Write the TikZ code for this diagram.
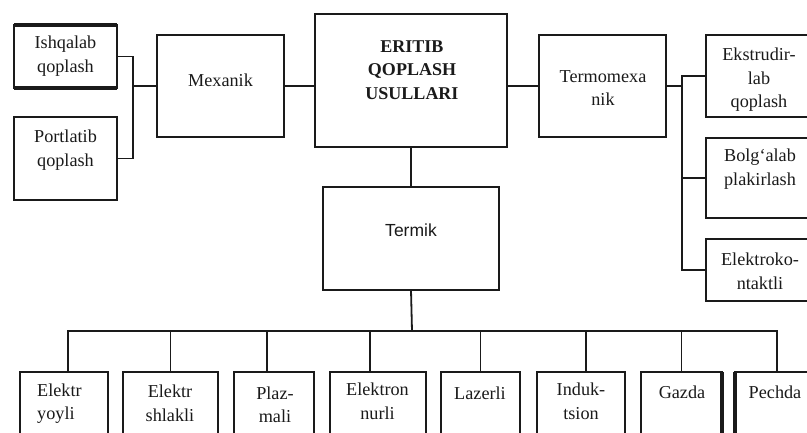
\documentclass[tikz,border=0pt]{standalone}
\usepackage{fontspec}
\setmainfont{Liberation Serif}
\newfontfamily\sansf{Liberation Sans}
\definecolor{ink}{HTML}{1A1A1A}
\begin{document}
\begin{tikzpicture}[x=1pt,y=-1pt,
  box/.style={draw=ink, line width=2.4pt, inner sep=0pt, outer sep=0pt},
  conn/.style={draw=ink, line width=1.8pt},
  txt/.style={font=\fontsize{18.2}{23.5}\selectfont, text=ink, align=center, inner sep=0pt}]
\useasboundingbox (0,0) rectangle (807,432);
\clip (0,0) rectangle (807,432);
% boxes
\node[box, minimum width=103pt, minimum height=63pt] (ishq) at (65.5,56.5) {};
\node[box, minimum width=103pt, minimum height=83pt] (port) at (65.5,158.5) {};
\node[box, minimum width=127pt, minimum height=102pt] (mex) at (220.5,86) {};
\node[box, minimum width=192pt, minimum height=133pt] (erit) at (411,80.5) {};
\node[box, minimum width=127pt, minimum height=102pt] (tm) at (602.5,86) {};
\node[box, minimum width=116pt, minimum height=82pt] (ext) at (764,76) {};
\node[box, minimum width=116pt, minimum height=80pt] (bol) at (764,178) {};
\node[box, minimum width=116pt, minimum height=62pt] (elk) at (764,270) {};
\node[box, minimum width=176pt, minimum height=103pt] (term) at (411,238.5) {};
\foreach \n/\cx/\w in {b1/64/88, b2/170.5/95, b3/274/80, b4/378/96, b5/480.5/79, b6/581/88, b7/681.5/81, b8/777/84}
  \node[box, minimum width=\w pt, minimum height=80pt] (\n) at (\cx,412) {};
% extra thick edges
\draw[ink, line width=4pt] (ishq.north west) -- (ishq.north east);
\draw[ink, line width=4pt] (ishq.south west) -- (ishq.south east);
\draw[ink, line width=4pt] (b7.north east) -- (b7.south east);
\draw[ink, line width=4pt] (b8.north west) -- (b8.south west);
% texts
\node[txt] (ishqT) at (65.5,56) {Ishqalab\\qoplash};
\node[txt] (portT) at (65.5,150) {Portlatib\\qoplash};
\node[txt] (mexT) at (220.5,80) {Mexanik};
\node[txt, font=\fontsize{18}{23.5}\selectfont\bfseries] (eritT) at (412,70) {ERITIB\\QOPLASH\\USULLARI};
\node[txt] (tmT) at (603,88) {Termomexa\\nik};
\node[txt] (extT) at (759,80) {Ekstrudir-\\lab\\qoplash};
\node[txt] (bolT) at (760,169) {Bolg`alab\\plakirlash};
\node[txt] (elkT) at (760,271.5) {Elektroko-\\ntaktli};
\node[txt, font=\fontsize{17.5}{22}\selectfont\sansf] (termT) at (411,230) {Termik};
\node[txt, anchor=west, align=left] (b1T) at (37,403.5) {Elektr\\yoyli};
\node[txt] (b2T) at (170,403.5) {Elektr\\shlakli};
\node[txt] (b3T) at (275,405) {Plaz-\\mali};
\node[txt] (b4T) at (377.5,401.5) {Elektron\\nurli};
\node[txt] (b5T) at (480,393) {Lazerli};
\node[txt] (b6T) at (581,401.5) {Induk-\\tsion};
\node[txt] (b7T) at (682,392) {Gazda};
\node[txt] (b8T) at (775,392) {Pechda};
% connectors left
\coordinate (mj) at (133,86);
\draw[conn] (ishq.east) -| (mj) |- (port.east);
\draw[conn] (mj) -- (mex.west);
\draw[conn] (mex.east) -- (mex.east -| erit.west);
\draw[conn] (erit.east |- tm.west) -- (tm.west);
% connectors right
\coordinate (rv) at (682,170);
\draw[conn] (ext.west) -| (rv) |- (elk.west);
\draw[conn] (bol.west) -- (bol.west -| rv);
\draw[conn] (tm.east) -- (tm.east -| rv);
% connectors down
\coordinate (bus) at (412,331);
\draw[conn] (erit.south) -- (term.north);
\draw[conn] (term.south) -- (bus);
\draw[conn] ([xshift=4pt]b1.north) |- (bus) -| (b8.north);
\foreach \n/\s in {b2/0, b3/-7, b4/-8, b5/0, b6/5, b7/0}
  \draw[conn] ([xshift=\s pt]\n.north) -- ([xshift=\s pt]\n.north |- bus);
\end{tikzpicture}
\end{document}
